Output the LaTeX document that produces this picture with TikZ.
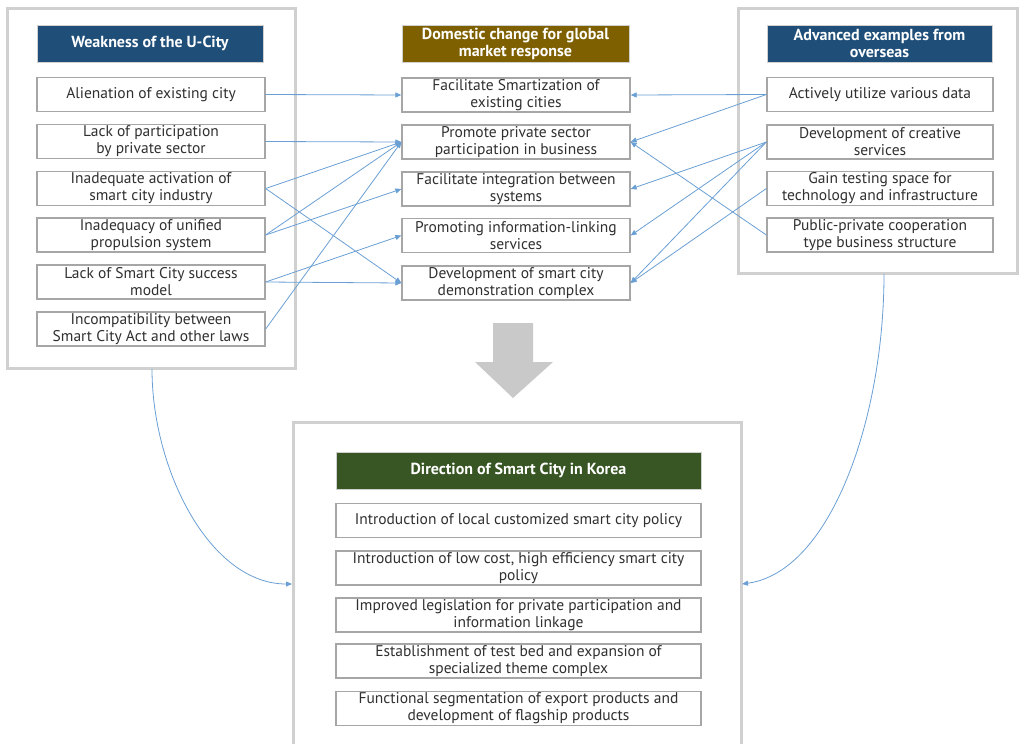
\documentclass[tikz,border=0pt]{standalone}
\usepackage{fontspec}
\setmainfont{PT Sans}
\usetikzlibrary{arrows.meta}
\definecolor{hblue}{HTML}{1F4E79}
\definecolor{holive}{HTML}{7F6000}
\definecolor{hgreen}{HTML}{375623}
\definecolor{cellborder}{HTML}{A6A6A6}
\definecolor{contborder}{HTML}{D0D0D0}
\definecolor{txt}{HTML}{303030}
\definecolor{link}{HTML}{6A9FD4}
\definecolor{bigarrow}{HTML}{C9C9C9}
\tikzset{
  cell/.style={draw=cellborder, line width=1.3pt, fill=white, align=center, inner sep=0pt,
    minimum height=34pt, text=txt, font=\fontsize{15.5}{17}\selectfont},
  head/.style={draw=contborder, line width=1pt, align=center, inner sep=0pt, minimum height=37pt,
    text=white, font=\fontsize{16}{17}\selectfont\bfseries},
  cont/.style={draw=contborder, line width=3pt},
  lnk/.style={draw=link, line width=0.8pt, -{Triangle[length=6pt,width=5pt]}},
}
\begin{document}
\begin{tikzpicture}[x=1pt,y=-1pt]
\useasboundingbox (0,0) rectangle (1020,744);
% containers
\draw[cont] (7,8) rectangle (295,368);
\draw[cont] (738,8) rectangle (1017,273);
\draw[cont] (293,746) -- (293,422) -- (741,422) -- (741,746);
% left column
\node[head, fill=hblue, minimum width=226pt] (LH) at (150,43.5) {Weakness of the U-City};
\node[cell, minimum width=228pt] (L1) at (151,94.5) {Alienation of existing city};
\node[cell, minimum width=228pt] (L2) at (151,141.5) {Lack of participation\\by private sector};
\node[cell, minimum width=228pt] (L3) at (151,188.5) {Inadequate activation of\\smart city industry};
\node[cell, minimum width=228pt] (L4) at (151,235) {Inadequacy of unified\\propulsion system};
\node[cell, minimum width=228pt] (L5) at (151,282) {Lack of Smart City success\\model};
\node[cell, minimum width=228pt] (L6) at (151,329) {Incompatibility between\\Smart City Act and other laws};
% middle column
\node[head, fill=holive, minimum width=227pt] (MH) at (515.5,43.5) {Domestic change for global\\market response};
\node[cell, minimum width=228pt] (M1) at (516,95) {Facilitate Smartization of\\existing cities};
\node[cell, minimum width=228pt] (M2) at (516,142) {Promote private sector\\participation in business};
\node[cell, minimum width=228pt] (M3) at (516,189) {Facilitate integration between\\systems};
\node[cell, minimum width=228pt] (M4) at (516,235.5) {Promoting information-linking\\services};
\node[cell, minimum width=228pt] (M5) at (516,283) {Development of smart city\\demonstration complex};
% right column
\node[head, fill=hblue, minimum width=225pt] (RH) at (879.5,43.5) {Advanced examples from\\overseas};
\node[cell, minimum width=226pt] (R1) at (880,94.5) {Actively utilize various data};
\node[cell, minimum width=226pt] (R2) at (880,142) {Development of creative\\services};
\node[cell, minimum width=226pt] (R3) at (880,188.5) {Gain testing space for\\technology and infrastructure};
\node[cell, minimum width=226pt] (R4) at (880,235) {Public-private cooperation\\type business structure};
% bottom column
\node[head, fill=hgreen, minimum width=365pt] (BH) at (518.5,470.5) {Direction of Smart City in Korea};
\node[cell, minimum width=365pt] (B1) at (518.5,520.5) {Introduction of local customized smart city policy};
\node[cell, minimum width=365pt] (B2) at (518.5,568) {Introduction of low cost, high efficiency smart city\\policy};
\node[cell, minimum width=365pt] (B3) at (518.5,615) {Improved legislation for private participation and\\information linkage};
\node[cell, minimum width=365pt] (B4) at (518.5,661) {Establishment of test bed and expansion of\\specialized theme complex};
\node[cell, minimum width=365pt] (B5) at (518.5,708.5) {Functional segmentation of export products and\\development of flagship products};
% big arrow
\fill[bigarrow] (493,323) -- (533,323) -- (533,362) -- (553,362) -- (513,398) -- (475,362) -- (493,362) -- cycle;
% left links
\draw[lnk] (L1.east) -- (M1.west);
\draw[lnk] (L2.east) -- (M2.west);
\draw[lnk] (L3.east) -- (M2.west);
\draw[lnk] (L3.east) -- (M5.west);
\draw[lnk] (L4.east) -- (M2.west);
\draw[lnk] (L4.east) -- (M3.west);
\draw[lnk] (L5.east) -- (M4.west);
\draw[lnk] (L5.east) -- (M5.west);
\draw[lnk] (L6.east) -- (M2.west);
% right links
\draw[lnk] (R1.west) -- (M1.east);
\draw[lnk] (R1.west) -- (M2.east);
\draw[lnk] (R2.west) -- (M3.east);
\draw[lnk] (R2.west) -- (M4.east);
\draw[lnk] (R2.west) -- (M5.east);
\draw[lnk] (R3.west) -- (M5.east);
\draw[lnk] (R4.west) -- (M2.east);
% curved links
\coordinate (cl0) at (152,369);
\coordinate (cl1) at (292,584);
\coordinate (cr0) at (884,274);
\coordinate (cr1) at (742,584);
\draw[lnk] (cl0) .. controls (152,470) and (210,584) .. (cl1);
\draw[lnk] (cr0) .. controls (884,420) and (830,572) .. (cr1);
\end{tikzpicture}
\end{document}
